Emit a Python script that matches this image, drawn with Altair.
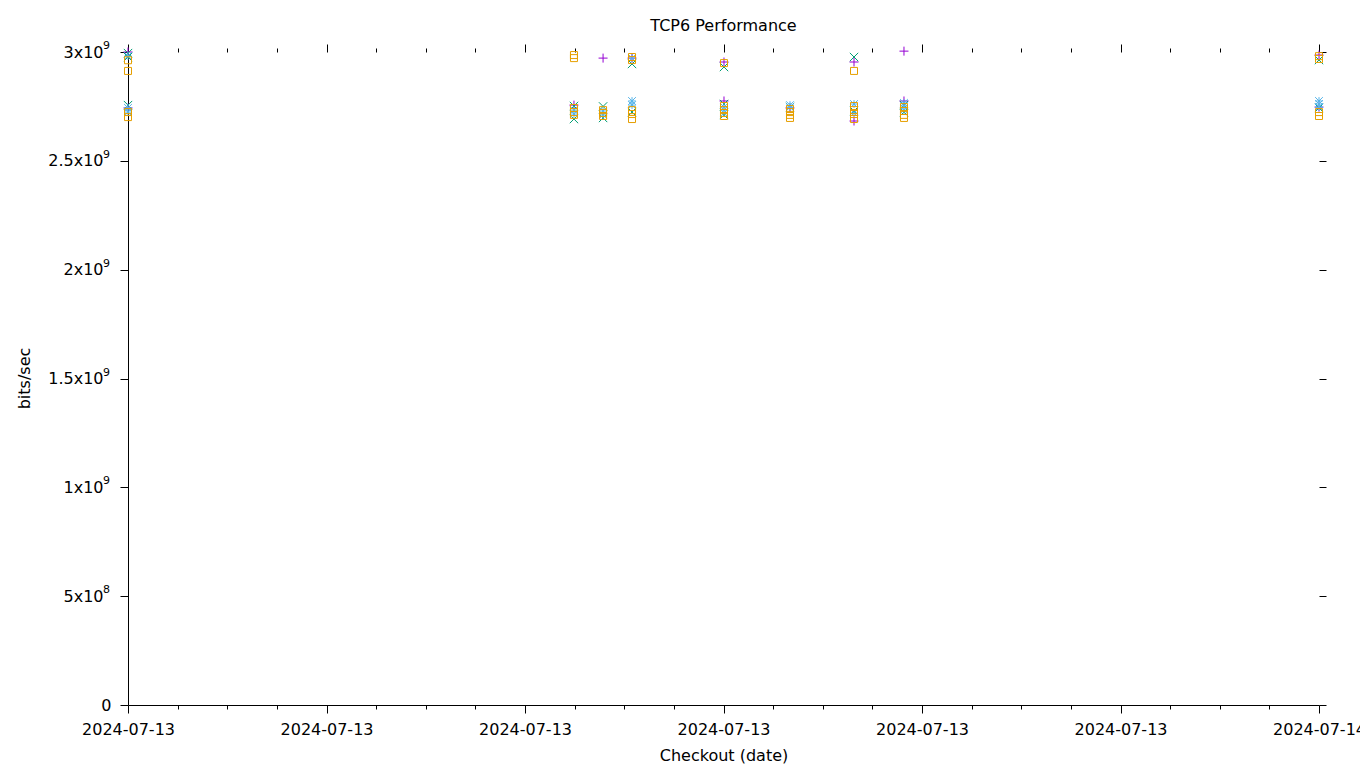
import altair as alt
import pandas as pd

# ---- data ----
run_times = ["2024-07-13 20:00:00", "2024-07-13 21:29:52", "2024-07-13 21:35:44", "2024-07-13 21:41:34",
             "2024-07-13 22:00:06", "2024-07-13 22:13:24", "2024-07-13 22:26:18", "2024-07-13 22:36:22",
             "2024-07-14 00:00:00"]

series_names = ["Series 1", "Series 2", "Series 3", "Series 4"]
series_colors = ["#9400d3", "#009e73", "#56b4e9", "#e69f00"]

purple_vals = [[3.000e9, 2.743e9], [2.756e9], [2.972e9], [2.972e9], [2.954e9, 2.775e9],
               [2.743e9], [2.954e9, 2.683e9], [3.004e9, 2.775e9], [2.986e9, 2.747e9]]
green_vals = [[2.995e9, 2.977e9, 2.756e9], [2.752e9, 2.692e9], [2.750e9, 2.697e9],
              [2.945e9, 2.724e9], [2.931e9, 2.761e9, 2.711e9], [2.747e9], [2.977e9, 2.729e9],
              [2.756e9, 2.724e9], [2.963e9, 2.743e9]]
blue_vals = [[2.981e9, 2.743e9, 2.724e9], [2.733e9, 2.715e9], [2.729e9, 2.711e9],
             [2.972e9, 2.775e9, 2.756e9], [2.747e9, 2.733e9, 2.720e9], [2.756e9, 2.747e9],
             [2.761e9, 2.720e9], [2.766e9, 2.752e9, 2.733e9], [2.775e9, 2.761e9, 2.747e9]]
orange_vals = [[2.962e9, 2.913e9, 2.724e9, 2.701e9], [2.986e9, 2.972e9, 2.743e9, 2.724e9, 2.711e9],
               [2.733e9, 2.720e9, 2.706e9], [2.977e9, 2.963e9, 2.733e9, 2.715e9, 2.692e9],
               [2.949e9, 2.752e9, 2.733e9, 2.720e9, 2.706e9], [2.738e9, 2.724e9, 2.711e9, 2.697e9],
               [2.913e9, 2.752e9, 2.733e9, 2.715e9, 2.692e9], [2.747e9, 2.729e9, 2.711e9, 2.697e9],
               [2.981e9, 2.968e9, 2.724e9, 2.706e9]]

x_start = "2024-07-13 20:00:00"
x_tick_minutes = [0, 40, 80, 120, 160, 200, 240]
x_minor_minutes = [m for m in range(0, 241, 10) if m % 40 != 0]
x_tick_labels = ["2024-07-13", "2024-07-13", "2024-07-13", "2024-07-13",
                 "2024-07-13", "2024-07-13", "2024-07-14"]

y_tick_values = [0, 5e8, 1e9, 1.5e9, 2e9, 2.5e9, 3e9]
y_tick_mantissa = ["0", "5x10", "1x10", "1.5x10", "2x10", "2.5x10", "3x10"]
y_tick_exponent = ["", "8", "9", "9", "9", "9", "9"]

# ---- build tables ----
rows = []
t0 = pd.Timestamp(x_start)
for name, vals in zip(series_names, [purple_vals, green_vals, blue_vals, orange_vals]):
    for t, vs in zip(run_times, vals):
        m = (pd.Timestamp(t) - t0).total_seconds() / 60.0
        for v in vs:
            rows.append({"minutes": m, "bps": v, "series": name})
df = pd.DataFrame(rows)
exp_df = pd.DataFrame({"bps": y_tick_values, "exp": y_tick_exponent})

FONT = "DejaVu Sans"
shapes = [
    "M-1,0H1M0,-1V1",
    "M-1,-1L1,1M-1,1L1,-1",
    "M-1,0H1M0,-1V1M-1,-1L1,1M-1,1L1,-1",
    "square",
]

all_x_ticks = sorted(x_tick_minutes + x_minor_minutes)
x_label_expr = "indexof({0}, datum.value) >= 0 ? {1}[indexof({0}, datum.value)] : ''".format(
    str(x_tick_minutes), str(x_tick_labels))
y_vals_js = "[" + ",".join(str(int(v)) for v in y_tick_values) + "]"
y_label_expr = "{1}[indexof({0}, datum.value)]".format(y_vals_js, str(y_tick_mantissa))
major_test = "indexof({0}, datum.value) >= 0".format(str(x_tick_minutes))

x_scale = alt.Scale(domain=[0, 240], nice=False, zero=False)
y_scale = alt.Scale(domain=[0, 3e9], nice=False)

axis_text = dict(labelFont=FONT, labelFontSize=16, labelColor="black",
                 titleFont=FONT, titleFontSize=16, titleFontWeight="normal", titleColor="black")

points = alt.Chart(df).mark_point(filled=False, strokeWidth=1, opacity=1).encode(
    x=alt.X("minutes:Q", scale=x_scale,
            axis=alt.Axis(values=all_x_ticks, labelExpr=x_label_expr, title="Checkout (date)",
                          tickSize={"condition": {"test": major_test, "value": 8}, "value": 4},
                          labelOverlap=False, labelFlush=False, labelBound=False,
                          labelPadding=8, grid=False, domainColor="black", tickColor="black",
                          titleY=50, titleBaseline="middle", **axis_text)),
    y=alt.Y("bps:Q", scale=y_scale,
            axis=alt.Axis(values=y_tick_values, labelExpr=y_label_expr, title="bits/sec",
                          tickSize=8,
                          labelPadding={"condition": {"test": "datum.value == 0", "value": 9}, "value": 17},
                          grid=False, labelOverlap=False,
                          labelFlush=False, domainColor="black", tickColor="black",
                          titleX=-104, titleY=326, titleAngle=-90, titleAlign="center",
                          titleBaseline="middle", **axis_text)),
    color=alt.Color("series:N", scale=alt.Scale(domain=series_names, range=series_colors), legend=None),
    shape=alt.Shape("series:N", scale=alt.Scale(domain=series_names, range=shapes), legend=None),
    size=alt.Size("series:N", scale=alt.Scale(domain=series_names, range=[81, 49, 64, 56]), legend=None),
    order=alt.Order("series:N"),
)

exponents = alt.Chart(exp_df).mark_text(
    font=FONT, fontSize=11, align="right", baseline="middle", dy=-6, color="black"
).encode(
    x=alt.value(-18),
    y=alt.Y("bps:Q", scale=y_scale, axis=None),
    text="exp:N",
)

mirror = alt.Chart(df).mark_point(opacity=0).encode(
    x=alt.X("minutes:Q", scale=x_scale,
            axis=alt.Axis(orient="top", values=all_x_ticks, labels=False, title=None, domain=False,
                          tickSize={"condition": {"test": major_test, "value": 8}, "value": 4},
                          grid=False, tickColor="black")),
    y=alt.Y("bps:Q", scale=y_scale,
            axis=alt.Axis(orient="right", values=y_tick_values, labels=False, title=None,
                          domain=False, tickSize=7, grid=False, tickColor="black")),
)

chart = alt.layer(points, mirror, exponents).resolve_axis(x="independent", y="independent").properties(
    width=1191, height=653,
    padding={"left": 128, "top": 52, "right": 41, "bottom": 63},
    autosize="none",
    background="white",
    title=alt.TitleParams("TCP6 Performance", font=FONT, fontSize=16, fontWeight="normal",
                          anchor="middle", offset=6, color="black"),
).configure_view(stroke=None)

chart.save("out.html", embed_options={"renderer": "svg", "actions": False})
